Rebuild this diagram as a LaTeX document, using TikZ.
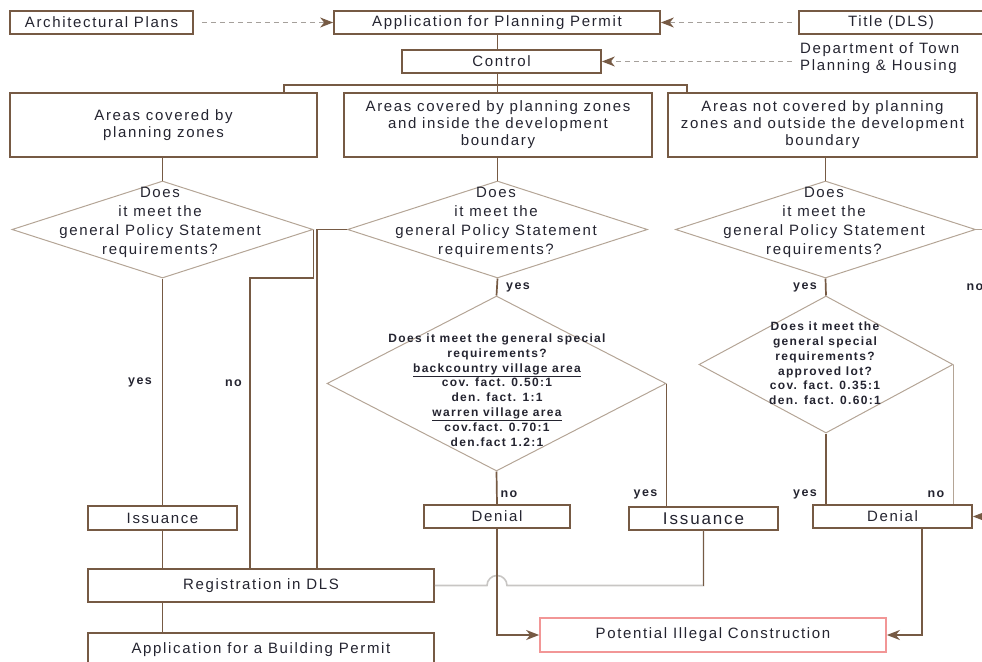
\documentclass[tikz,border=0pt]{standalone}
\usepackage{fontspec}
\setmainfont[LetterSpace=11]{Liberation Sans}
\usetikzlibrary{shapes.geometric,arrows.meta,calc}
\definecolor{brn}{RGB}{118,90,68}
\definecolor{dbrd}{RGB}{180,165,150}
\definecolor{txt}{RGB}{36,36,48}
\definecolor{dsh}{RGB}{165,160,155}
\definecolor{hopc}{RGB}{200,198,196}
\definecolor{pinkb}{RGB}{242,150,150}
\begin{document}
\begin{tikzpicture}[x=1pt,y=-1pt,
  every node/.style={text=txt, font=\fontsize{15}{17}\selectfont},
  box/.style={draw=brn, line width=1.7pt, fill=white, inner sep=2pt, align=center, anchor=center},
  dia/.style={diamond, draw=dbrd, line width=1pt, inner sep=0pt},
  dtext/.style={align=center, font=\fontsize{15}{19}\selectfont},
  stext/.style={align=center, font=\fontsize{12}{14.8}\selectfont\bfseries},
  lbl/.style={font=\fontsize{12.5}{14}\selectfont\bfseries, inner sep=0pt},
  conn/.style={draw=brn, line width=1.7pt},
  arr/.style={conn, -{Stealth[length=13pt,width=10pt,inset=4pt]}},
  dasharr/.style={draw=dsh, line width=1.3pt, dash pattern=on 5pt off 4pt, -{Stealth[length=13pt,width=10pt,inset=4pt,color=brn]}},
  grayline/.style={draw=hopc, line width=1.6pt},
  thinline/.style={draw=dbrd, line width=1.2pt}
]
\useasboundingbox (0,0) rectangle (982,661);
\clip (0,0) rectangle (982,661);

% top row
\node[box, minimum width=183pt, minimum height=23pt] (ap) at (101.5,22.5) {Architectural Plans};
\node[box, minimum width=326pt, minimum height=23pt] (app) at (497,22.5) {Application for Planning Permit};
\node[box, minimum width=184pt, minimum height=23pt] (title) at (891,22.5) {Title (DLS)};
\node[anchor=west, align=left, inner sep=0pt] (dept) at (800,58.5) {Department of Town\\Planning \& Housing};
\node[box, minimum width=199pt, minimum height=23pt] (ctrl) at (501.5,61.5) {Control};

% area boxes
\node[box, minimum width=307pt, minimum height=64pt] (a1) at (163.5,125) {Areas covered by\\planning zones};
\node[box, minimum width=308pt, minimum height=64pt] (a2) at (498,125) {Areas covered by planning zones\\and inside the development\\boundary};
\node[box, minimum width=309pt, minimum height=64pt] (a3) at (822.5,125) {Areas not covered by planning\\zones and outside the development\\boundary};

% diamonds
\node[dia, minimum width=301pt, minimum height=97pt] (d1) at (162.5,229.5) {};
\node[dia, minimum width=300pt, minimum height=97pt] (d2) at (497.5,229.5) {};
\node[dia, minimum width=300pt, minimum height=97pt] (d3) at (825.5,229.5) {};
\node[dia, minimum width=339pt, minimum height=175pt] (d4) at (496.5,383.5) {};
\node[dia, minimum width=254pt, minimum height=137pt] (d5) at (826,364.5) {};

\node[dtext] (d1t) at (160,222) {Does\\it meet the\\general Policy Statement\\requirements?};
\node[dtext] (d2t) at (496,222) {Does\\it meet the\\general Policy Statement\\requirements?};
\node[dtext] (d3t) at (824,222) {Does\\it meet the\\general Policy Statement\\requirements?};
\node[stext] (d4t) at (497,390) {Does it meet the general special\\requirements?\\\underline{backcountry village area}\\cov. fact. 0.50:1\\den. fact. 1:1\\\underline{warren village area}\\cov.fact. 0.70:1\\den.fact 1.2:1};
\node[stext] (d5t) at (825,363.5) {Does it meet the\\general special\\requirements?\\approved lot?\\cov. fact. 0.35:1\\den. fact. 0.60:1};

% lower boxes
\node[box, minimum width=149pt, minimum height=24pt] (iss1) at (162.5,518) {Issuance};
\node[box, minimum width=346pt, minimum height=33pt] (reg) at (261,585.5) {Registration in DLS};
\node[box, minimum width=346pt, minimum height=34pt] (abp) at (261,650) {Application for a Building Permit};
\node[box, minimum width=146pt, minimum height=23pt] (den1) at (497,516.5) {Denial};
\node[box, minimum width=149pt, minimum height=23pt, font=\fontsize{17}{19}\selectfont] (iss2) at (703.5,518.5) {Issuance};
\node[box, minimum width=159pt, minimum height=23pt] (den2) at (892.5,516.5) {Denial};
\node[box, draw=pinkb, minimum width=346pt, minimum height=34pt] (pic) at (713,635) {Potential Illegal Construction};

% coordinates
\coordinate (b1) at (284,85);
\coordinate (b3) at (687,85);
\coordinate (n1) at (250,278);
\coordinate (n2) at (317,229.5);
\coordinate (dl) at ([xshift=-8pt]dept.west);
\coordinate (tl) at ([xshift=-6pt]title.west);
\coordinate (al) at ([xshift=8pt]ap.east);
\coordinate (k) at (922,0);
\coordinate (e3) at (995,229.5);
\coordinate (e4) at (995,516.5);

% dashed inputs
\draw[dasharr] (al) -- (app.west);
\draw[dasharr] (tl) -- (app.east);
\draw[dasharr] (dl |- ctrl.east) -- (ctrl.east);

% tree
\draw[conn] (d2.north |- app.south) -- (d2.north |- ctrl.north);
\draw[conn] (d2.north |- ctrl.south) -- (d2.north |- a2.north);
\draw[conn] (a1.north -| b1) -- (b1) -- (b3) -- (a3.north -| b3);
\draw[conn] (d1.north |- a1.south) -- (d1.north);
\draw[conn] (d2.north |- a2.south) -- (d2.north);
\draw[conn] (d3.north |- a3.south) -- (d3.north);

% left column
\draw[conn] (d1.south) -- (iss1.north);
\draw[conn] (iss1.south) -- (iss1.south |- reg.north);
\draw[conn] (iss1.south |- reg.south) -- (iss1.south |- abp.north);
\draw[conn] (d1.east) |- (n1) -- (n1 |- reg.north);
\draw[conn] (d2.west) -- (n2) -- (n2 |- reg.north);

% middle column
\draw[conn] (d2.south) -- (d4.north);
\draw[conn] (d4.south) -- (den1.north);
\draw[conn] (d4.east) -- (d4.east |- iss2.north);
\draw[grayline] (iss2.south) -- (iss2.south |- reg.east) -- ($(den1.south |- reg.east)+(10,0)$) arc[start angle=0,end angle=180,radius=10pt] -- (reg.east);
\draw[conn] (iss2.south) -- (iss2.south |- reg.east);
\draw[arr] (den1.south) |- (pic.west);

% right column
\draw[conn] (d3.south) -- (d5.north);
\draw[conn] (d5.south) -- (d5.south |- den2.north);
\draw[thinline] (d5.east) -- (d5.east |- den2.north);
\draw[thinline] (d3.east) -- (e3);
\draw[arr] (den2.south -| k) |- (pic.east);
\draw[arr] (e4) -- (den2.east);

% labels
\node[lbl] (y1) at (140,382) {yes};
\node[lbl] (no1) at (233.5,383) {no};
\node[lbl] (y2) at (518,287) {yes};
\node[lbl] (no4) at (509,494) {no};
\node[lbl] (y4) at (645.5,494) {yes};
\node[lbl] (y3) at (805,287) {yes};
\node[lbl] (no3) at (975,287) {no};
\node[lbl] (y5) at (805,494) {yes};
\node[lbl] (no5) at (936,494) {no};
\end{tikzpicture}
\end{document}
